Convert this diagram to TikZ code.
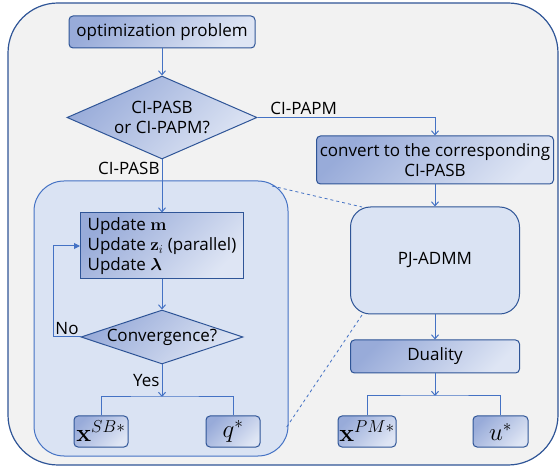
\documentclass[tikz,border=0pt]{standalone}
\usepackage{amsmath,bm}
\usepackage[no-math]{fontspec}
\setmainfont{Open Sans}
\usetikzlibrary{arrows.meta, shapes.geometric}

\definecolor{outerfill}{RGB}{242,242,242}
\definecolor{navy}{RGB}{47,85,151}
\definecolor{linkblue}{RGB}{68,114,196}
\definecolor{boxdark}{RGB}{152,171,217}
\definecolor{boxlight}{RGB}{222,229,244}
\definecolor{panelfill}{RGB}{218,227,243}

\begin{document}
\begin{tikzpicture}[x=1pt,y=-1pt,>={Straight Barb[length=4pt,width=7pt]},
  flow/.style={->,draw=linkblue,line width=1pt},
  fork/.style={draw=linkblue,line width=1pt},
  block/.style={rectangle,rounded corners=4pt,draw=navy,line width=1pt,
    top color=boxdark,bottom color=boxlight,shading angle=45,inner sep=0pt,
    font=\fontsize{17}{20}\selectfont},
  decision/.style={block,diamond,rounded corners=0pt,align=center},
  result/.style={block,minimum height=31pt,font=\fontsize{25}{27}\selectfont},
  soft/.style={rectangle,draw=navy,line width=1pt,fill=panelfill,inner sep=0pt,
    font=\fontsize{17}{20}\selectfont},
  lab/.style={font=\fontsize{17}{20}\selectfont,inner sep=2pt}]
  \useasboundingbox (0,0) rectangle (560,470);
  % background frame and zoomed panel
  \draw[draw=navy,fill=outerfill,line width=1.2pt,rounded corners=50pt] (8,3) rectangle (558,465);
  \node[soft,draw=linkblue,rounded corners=30pt,minimum width=254pt,minimum height=275pt] (panel) at (161,318.5) {};

  % left column
  \node[block,minimum width=186pt,minimum height=32pt] (opt) at (162,32) {optimization problem};
  \node[decision,aspect=2.29,minimum width=190pt,minimum height=83pt] (choice) at (162,117.5) {CI-PASB\\or CI-PAPM?};
  \node[block,rounded corners=0pt,minimum width=163pt,minimum height=66pt,align=left] (update) at (162,246)
    {Update $\mathbf{m}$\\Update $\mathbf{z}_i$ (parallel)\\Update $\bm{\lambda}$};
  \node[decision,aspect=3,minimum width=162pt,minimum height=54pt] (conv) at (162,337) {Convergence?};
  \coordinate (yesfork) at (162,397);
  \node[result,minimum width=54pt] (xsb) at (101,431.5) {$\mathbf{x}^{SB*}$};
  \node[result,minimum width=54pt] (qs) at (233,431.5) {$q^*$};

  % right column
  \node[block,minimum width=237pt,minimum height=48pt,align=center] (convert) at (435,160) {convert to the corresponding\\CI-PASB};
  \node[soft,rounded corners=20pt,minimum width=169pt,minimum height=107pt] (pj) at (435,260.5) {PJ-ADMM};
  \node[block,minimum width=169pt,minimum height=33pt] (dual) at (435,356.5) {Duality};
  \coordinate (dualfork) at (435,396);
  \node[result,minimum width=58pt] (xpm) at (367,431.5) {$\mathbf{x}^{PM*}$};
  \node[result,minimum width=55pt] (us) at (500.5,431.5) {$u^*$};

  \path[flow]
    (opt) edge (choice)
    (choice) edge node[lab,pos=0.17,left] {CI-PASB} (update)
    (update) edge (conv)
    (convert) edge (pj)
    (pj) edge (dual);
  \draw[flow] (choice.east) -| node[lab,pos=0.13,above] {CI-PAPM} (convert.north);
  \draw[flow,-{Triangle[length=6pt,width=6pt]}] (conv.west) -- node[lab,above] {No} ++(-27,0) |- (update.west);
  \draw[flow] (conv.south) -- node[lab,left] {Yes} (yesfork);
  \draw[fork] (xsb.north) |- (yesfork) -| (qs.north);
  \draw[flow] (dual.south) -- (dualfork);
  \draw[fork] (xpm.north) |- (dualfork) -| (us.north);

  % zoom hints
  \coordinate (panelhint) at (272,186);
  \coordinate (pjtop) at (362,207);
  \coordinate (pjbottom) at (362,315);
  \coordinate (panellow) at (286,428);
  \draw[linkblue,dashed,line width=0.8pt] (panelhint) -- (pjtop) (pjbottom) -- (panellow);
\end{tikzpicture}
\end{document}
